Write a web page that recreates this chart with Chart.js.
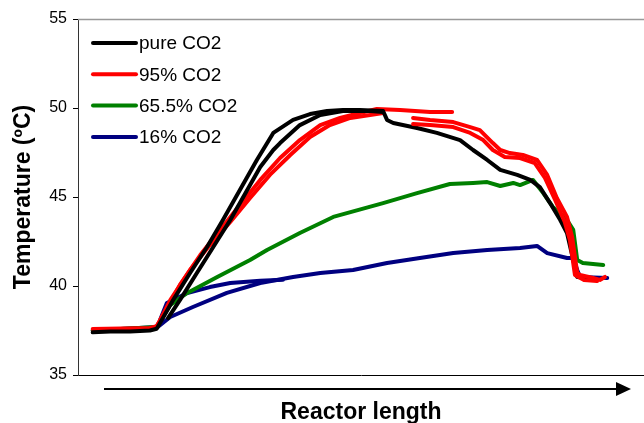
<!DOCTYPE html>
<html>
<head>
<meta charset="utf-8">
<script src="https://cdn.jsdelivr.net/npm/chart.js@4/dist/chart.umd.min.js"></script>
<style>
  html, body { margin: 0; padding: 0; background: #fff; }
  #wrap { width: 644px; height: 423px; position: relative; }
</style>
</head>
<body>
<div id="wrap"><canvas id="chart"></canvas></div>
<script>
// Temperature profiles along the reactor.
// x = position along reactor (% of plotted length), y = temperature in ºC

const seriesLabels = ['pure CO2', '95% CO2', '65.5% CO2', '16% CO2'];
const seriesColors = ['#000000', '#ff0000', '#008000', '#000080'];

const pureRun1 = [
  [2.6, 37.4], [5.7, 37.45], [9.2, 37.45], [12.7, 37.5], [13.9, 37.6], [15.0, 38.2],
  [16.8, 39.21], [19.8, 40.73], [22.8, 42.19], [25.6, 43.71], [28.6, 45.39], [31.6, 47.08],
  [34.5, 48.6], [38.0, 49.33], [41.0, 49.66], [44.0, 49.83], [46.8, 49.89], [49.8, 49.89],
  [53.9, 49.83], [54.6, 49.33], [55.7, 49.16], [59.9, 48.88], [63.4, 48.6], [67.5, 48.2],
  [69.8, 47.64], [72.3, 47.08], [74.6, 46.52], [77.6, 46.24], [79.9, 45.96], [81.6, 45.56],
  [83.4, 44.66], [85.2, 43.71], [86.4, 42.98], [87.5, 41.46], [88.2, 40.51], [90.5, 40.45]
];
const pureRun2 = [
  [15.9, 38.2], [18.0, 39.21], [21.0, 40.73], [23.9, 42.19], [26.9, 43.71], [29.9, 45.39],
  [32.2, 46.69], [34.5, 47.64], [35.7, 48.03], [39.2, 49.04], [42.8, 49.61], [46.8, 49.83],
  [51.6, 49.83], [53.9, 49.78]
];

const co2_95Run1 = [
  [2.6, 37.58], [12.7, 37.64], [13.9, 37.75], [15.4, 38.54], [18.0, 40.06], [21.6, 41.74],
  [25.1, 43.15], [28.6, 44.55], [32.2, 45.96], [35.7, 47.19], [39.2, 48.2], [42.8, 49.04],
  [46.3, 49.44], [49.8, 49.72], [52.8, 49.94], [56.9, 49.89], [62.2, 49.78], [66.1, 49.78]
];
const co2_95Run2 = [
  [13.9, 37.7], [16.3, 39.21], [19.8, 40.9], [23.3, 42.3], [26.9, 43.6], [30.4, 44.94],
  [33.9, 46.24], [37.5, 47.36], [41.0, 48.37], [44.5, 49.04], [48.1, 49.44], [51.6, 49.61],
  [53.9, 49.72]
];
const co2_95Run3 = [
  [59.2, 49.44], [62.2, 49.33], [66.3, 49.21], [69.3, 48.93], [71.0, 48.76], [73.3, 48.03],
  [74.6, 47.64], [76.3, 47.47], [78.6, 47.36], [81.1, 47.08], [82.9, 46.24], [84.6, 44.94],
  [86.4, 43.88], [87.3, 42.75], [88.2, 40.73], [88.7, 40.62], [91.0, 40.45], [92.2, 40.34],
  [93.1, 40.51]
];
const co2_95Run4 = [
  [59.2, 49.1], [62.2, 49.04], [66.3, 48.93], [69.3, 48.6], [71.6, 48.2], [73.3, 47.64],
  [75.4, 47.25], [78.1, 47.19], [80.7, 46.91], [82.5, 46.07], [84.3, 44.83], [86.0, 43.6],
  [86.9, 42.58], [87.8, 40.62], [89.4, 40.34], [91.7, 40.28]
];

const co2_65Run1 = [
  [2.6, 37.5], [13.9, 37.7], [16.3, 38.93], [19.3, 39.61], [24.6, 40.51], [30.4, 41.46],
  [33.4, 42.02], [39.2, 42.98], [45.1, 43.88], [53.9, 44.66], [59.9, 45.22], [65.7, 45.73],
  [69.8, 45.79], [72.3, 45.84], [74.6, 45.62], [76.9, 45.79], [78.1, 45.67], [80.4, 45.96],
  [82.2, 45.22], [83.9, 44.44], [86.4, 43.71], [87.5, 43.15], [88.2, 41.46], [89.2, 41.29],
  [92.8, 41.18]
];

const co2_16Run1 = [
  [14.5, 38.09], [15.7, 39.04], [19.3, 39.61], [23.3, 39.94], [26.9, 40.17], [32.2, 40.3],
  [36.2, 40.35]
];
const co2_16Run2 = [
  [2.6, 37.5], [14.1, 37.7], [16.3, 38.26], [20.3, 38.82], [26.3, 39.61], [32.2, 40.17],
  [38.0, 40.51], [42.8, 40.73], [48.6, 40.9], [54.6, 41.29], [60.4, 41.57], [66.3, 41.85],
  [72.3, 42.02], [78.1, 42.13], [81.1, 42.25], [82.9, 41.85], [86.4, 41.57], [87.5, 41.57],
  [88.2, 40.9], [88.7, 40.51], [93.5, 40.45]
];

const yTicks = [35, 40, 45, 50, 55];

const FONT = "'Liberation Sans', Arial, sans-serif";

// series index -> runs, with a layer (higher order = drawn underneath)
const runs = [
  { s: 3, pts: co2_16Run1, order: 9 },
  { s: 3, pts: co2_16Run2, order: 8 },
  { s: 2, pts: co2_65Run1, order: 7 },
  { s: 1, pts: co2_95Run1, order: 6 },
  { s: 1, pts: co2_95Run2, order: 5 },
  { s: 0, pts: pureRun1,   order: 4 },
  { s: 0, pts: pureRun2,   order: 3 },
  { s: 1, pts: co2_95Run3, order: 2 },
  { s: 1, pts: co2_95Run4, order: 1 },
];

const datasets = runs.map(r => ({
  label: seriesLabels[r.s],
  data: r.pts.map(p => ({ x: p[0], y: p[1] })),
  borderColor: seriesColors[r.s],
  backgroundColor: seriesColors[r.s],
  borderWidth: 4,
  pointRadius: 0,
  tension: 0,
  borderCapStyle: 'round',
  borderJoinStyle: 'round',
  order: r.order,
}));

// legend inside the plot, top-left, plus top frame line and arrow under x axis
const extras = {
  id: 'extras',
  beforeDatasetsDraw(chart) {
    const { ctx, chartArea: a } = chart;
    ctx.save();
    ctx.strokeStyle = '#999';
    ctx.lineWidth = 1.5;
    ctx.beginPath();
    ctx.moveTo(a.left, a.top + 0.5);
    ctx.lineTo(a.right, a.top + 0.5);
    ctx.stroke();
    ctx.restore();
  },
  afterDraw(chart) {
    const { ctx, chartArea: a } = chart;
    ctx.save();
    // legend
    ctx.font = '19px ' + FONT;
    ctx.textBaseline = 'middle';
    seriesLabels.forEach((lab, i) => {
      const y = a.top + 24 + i * 31.3;
      ctx.strokeStyle = seriesColors[i];
      ctx.lineWidth = 4;
      ctx.lineCap = 'round';
      ctx.beginPath();
      ctx.moveTo(a.left + 15, y);
      ctx.lineTo(a.left + 58, y);
      ctx.stroke();
      ctx.fillStyle = '#000';
      ctx.fillText(lab, a.left + 61, y + 1);
    });
    // arrow
    const ay = a.bottom + 14;
    ctx.strokeStyle = '#000';
    ctx.lineWidth = 2;
    ctx.lineCap = 'butt';
    ctx.beginPath();
    ctx.moveTo(a.left + 26, ay);
    ctx.lineTo(a.right - 26, ay);
    ctx.stroke();
    ctx.fillStyle = '#000';
    ctx.beginPath();
    ctx.moveTo(a.right - 28, ay - 7);
    ctx.lineTo(a.right - 13, ay);
    ctx.lineTo(a.right - 28, ay + 7);
    ctx.closePath();
    ctx.fill();
    ctx.restore();
  }
};

new Chart(document.getElementById('chart'), {
  type: 'line',
  data: { datasets },
  options: {
    responsive: true,
    maintainAspectRatio: false,
    animation: false,
    layout: { padding: { top: 19, right: 0, left: 0, bottom: 0 } },
    plugins: {
      legend: { display: false },
      tooltip: { enabled: false },
    },
    scales: {
      x: {
        type: 'linear',
        min: 0,
        max: 100,
        ticks: { display: false },
        grid: { display: false },
        border: { display: true, color: '#000', width: 1 },
        title: {
          display: true,
          text: 'Reactor length',
          color: '#000',
          font: { family: FONT, size: 23, weight: 'bold' },
          padding: { top: 0, bottom: -3 },
        },
        afterFit(scale) { scale.height = 48; },
      },
      y: {
        min: 35,
        max: 55,
        afterBuildTicks(scale) { scale.ticks = yTicks.map(v => ({ value: v })); },
        ticks: {
          color: '#000',
          padding: 6,
          font: { family: FONT, size: 16 },
        },
        grid: {
          display: true,
          drawOnChartArea: false,
          drawTicks: true,
          tickLength: 5,
          color: '#000',
        },
        border: { display: true, color: '#333', width: 1 },
        title: {
          display: true,
          text: 'Temperature (ºC)',
          color: '#000',
          font: { family: FONT, size: 23, weight: 'bold' },
          padding: { top: 10, bottom: 0 },
        },
        afterFit(scale) { scale.width = 78; },
      },
    },
  },
  plugins: [extras],
});
</script>
</body>
</html>
